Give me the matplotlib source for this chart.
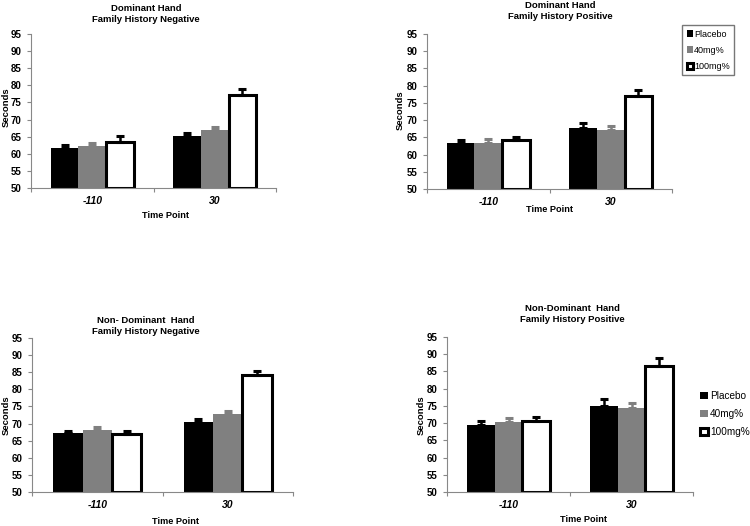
import numpy as np
import matplotlib
matplotlib.use("Agg")
import matplotlib.pyplot as plt

plt.rcParams['font.family'] = ['Liberation Sans', 'DejaVu Sans']

# --- data ---
time_points = ['-110', '30']
doses = ['Placebo', '40mg%', '100mg%']

titles = ['Dominant Hand\nFamily History Negative',
          'Dominant Hand\nFamily History Positive',
          'Non- Dominant  Hand\nFamily History Negative',
          'Non-Dominant  Hand\nFamily History Positive']

# means per panel: rows = dose, cols = time point
dom_neg = [[61.8, 65.2], [62.4, 67.0], [63.3, 77.3]]
dom_pos = [[63.4, 67.8], [63.5, 67.0], [64.2, 77.0]]
nondom_neg = [[67.2, 70.5], [68.2, 72.7], [67.0, 84.2]]
nondom_pos = [[69.5, 74.9], [70.3, 74.3], [70.5, 86.5]]

# standard errors (upper only)
dom_neg_err = [[0.8, 0.8], [0.7, 0.8], [2.0, 1.6]]
dom_pos_err = [[0.7, 1.3], [1.0, 1.2], [1.0, 1.7]]
nondom_neg_err = [[0.7, 0.9], [0.8, 1.0], [0.7, 1.3]]
nondom_pos_err = [[1.2, 2.0], [1.2, 1.5], [1.2, 2.3]]

W, H = 750, 526
fig = plt.figure(figsize=(W / 100, H / 100), dpi=100)


def add_ax(left, top, right, bottom):
    return fig.add_axes([left / W, 1 - bottom / H, (right - left) / W, (bottom - top) / H])


# --- layout in pixels ---
boxes = [(31, 34, 276, 188), (427, 34, 672, 189), (32, 338, 293, 492), (447, 337, 693, 492)]
title_pos = [(146, 4), (560, 1), (146, 316), (572, 304)]
xlabel_pos = [(166, 216), (550, 210), (175, 521), (583, 520)]
ylabel_pos = [(6, 107), (400, 110), (6, 415), (421, 415)]
panels = [(dom_neg, dom_neg_err), (dom_pos, dom_pos_err),
          (nondom_neg, nondom_neg_err), (nondom_pos, nondom_pos_err)]

face = ['black', '#808080', 'white']
err_col = ['black', '#808080', 'black']
bar_w = 0.225
centers = np.array([0.5, 1.5])

axes = []
for i, (box, (vals, errs)) in enumerate(zip(boxes, panels)):
    ax = add_ax(*box)
    axes.append(ax)
    for j in range(3):
        xs = centers + (j - 1) * bar_w
        ax.bar(xs, np.array(vals[j]) - 50, bar_w, bottom=50, color=face[j],
               edgecolor='black', linewidth=2.2 if j == 2 else 0, label=doses[j], zorder=2)
        ax.errorbar(xs, vals[j], yerr=[np.zeros(2), errs[j]], fmt='none',
                    ecolor=err_col[j], elinewidth=1.8, capsize=3, capthick=2.2, zorder=3)
    ax.set_xlim(0, 2)
    ax.set_ylim(50, 95)
    ax.set_yticks(np.arange(50, 96, 5))
    ax.set_xticks([0, 1, 2])
    ax.set_xticklabels([])
    ax.set_xticks(centers, minor=True)
    ax.set_xticklabels(time_points, minor=True, fontsize=7.5, fontweight='bold', style='italic')
    ax.tick_params(axis='x', which='minor', length=0, pad=6)
    ax.tick_params(axis='x', which='major', length=3, color='#888888')
    ax.tick_params(axis='y', length=3, color='#888888', labelsize=7, pad=4)
    for lab in ax.get_yticklabels():
        lab.set_fontweight('bold')
    for s in ['top', 'right']:
        ax.spines[s].set_visible(False)
    for s in ['left', 'bottom']:
        ax.spines[s].set_color('#888888')
        ax.spines[s].set_linewidth(0.8)

    tx, ty = title_pos[i]
    fig.text(tx / W, 1 - ty / H, titles[i], ha='center', va='top',
             fontsize=6.8, fontweight='bold', linespacing=1.3)
    lx, ly = xlabel_pos[i]
    fig.text(lx / W, 1 - ly / H, 'Time Point', ha='center', va='center',
             fontsize=6.6, fontweight='bold')
    yx, yy = ylabel_pos[i]
    fig.text(yx / W, 1 - yy / H, 'Seconds', ha='center', va='center', rotation=90,
             fontsize=6.8, fontweight='bold')

# legend top-right (boxed)
h, l = axes[1].get_legend_handles_labels()
fig.legend(h, l, loc='upper left', bbox_to_anchor=(682 / W, 1 - 25 / H), frameon=True,
           fancybox=False, edgecolor='#555555', fontsize=6.5, handlelength=0.7, handleheight=0.7,
           handletextpad=0.15, labelspacing=0.8, borderpad=0.5, borderaxespad=0)

# legend bottom-right (no frame)
h, l = axes[3].get_legend_handles_labels()
fig.legend(h, l, loc='upper left', bbox_to_anchor=(700 / W, 1 - 391 / H), frameon=False,
           fontsize=7.2, handlelength=0.8, handleheight=0.8,
           handletextpad=0.2, labelspacing=0.8, borderaxespad=0, borderpad=0)

fig.savefig('out.png', dpi=100)
